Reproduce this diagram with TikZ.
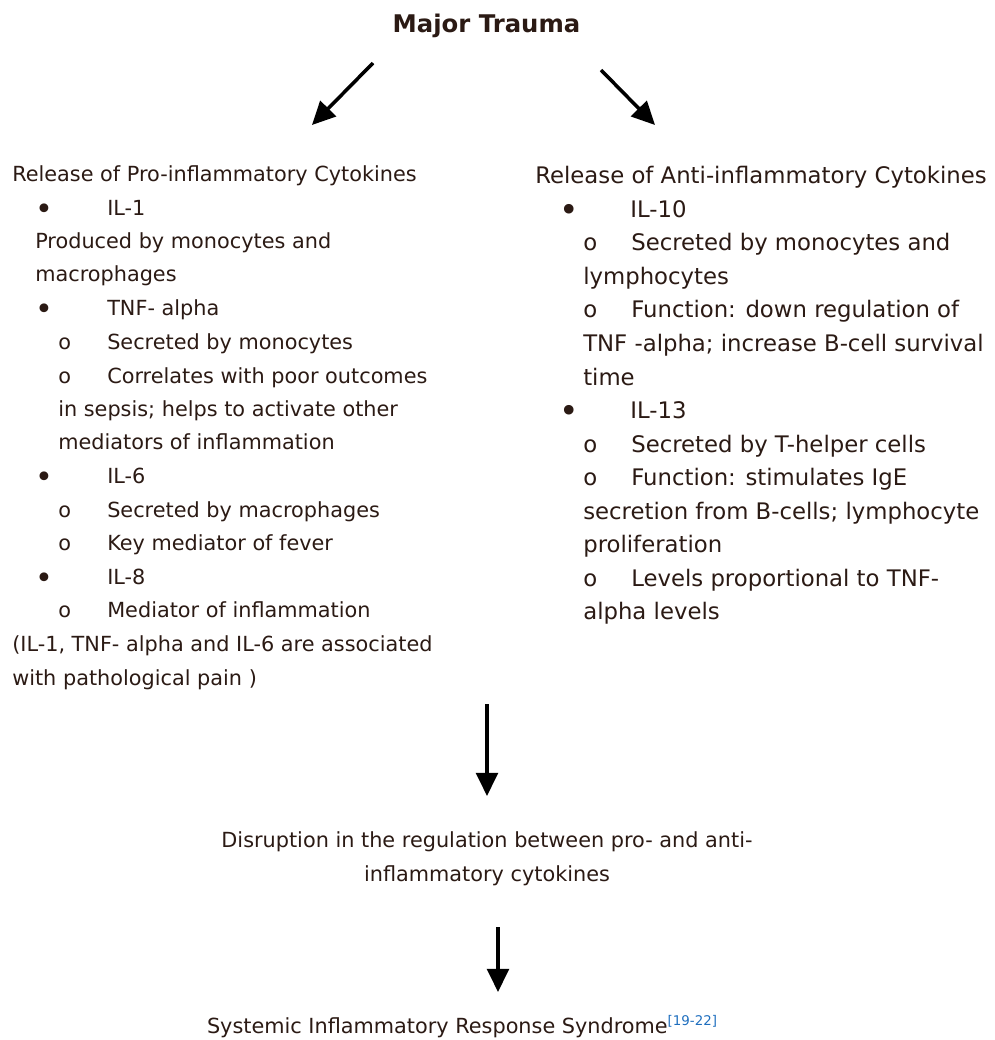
\documentclass[tikz,border=0pt]{standalone}
\usepackage{fontspec}
\setmainfont{DejaVu Sans}
\usepackage{tikz}
\usetikzlibrary{arrows.meta}
\definecolor{textbrown}{RGB}{43,26,20}
\definecolor{refblue}{RGB}{30,110,190}
\newcommand{\shaft}{2.5pt}
\newcommand{\lsize}{\fontsize{14.8}{18}\selectfont}
\newcommand{\rsize}{\fontsize{16.2}{20}\selectfont}
\newcommand{\bigdot}{\raisebox{-3.2pt}{\scalebox{1.45}{•}}}
\tikzset{
  lefttext/.style={anchor=base west, inner sep=0pt, text=textbrown, font=\lsize},
  righttext/.style={anchor=base west, inner sep=0pt, text=textbrown, font=\rsize},
  midtext/.style={anchor=base, inner sep=0pt, text=textbrown, font=\lsize},
  flow/.style={draw=black, line width=\shaft, -{Triangle[length=16.5pt,width=15.5pt]}}
}

\begin{document}
\begin{tikzpicture}[x=0.025cm,y=-0.025cm]
\useasboundingbox (0,0) rectangle (994,1040);
\node[midtext, font=\fontsize{17.3}{20}\selectfont\bfseries] (trauma) at (486.5,32) {Major Trauma};
%pro-inflammatory
\node[lefttext] (pro) at (12,181) {Release of Pro-inflammatory Cytokines};
\node[lefttext] (proAbul) at (35,215) {\bigdot};
\node[lefttext] (proA) at (107,215) {IL-1};
\node[lefttext] (proAa) at (35,248) {Produced by monocytes and};
\node[lefttext] (proAb) at (35,281) {macrophages};
\node[lefttext] (proBbul) at (35,315) {\bigdot};
\node[lefttext] (proB) at (107,315) {TNF- alpha};
\node[lefttext] (proBao) at (58,349) {o};
\node[lefttext] (proBa) at (107,349) {Secreted by monocytes};
\node[lefttext] (proBbo) at (58,383) {o};
\node[lefttext] (proBb) at (107,383) {Correlates with poor outcomes};
\node[lefttext] (proBc) at (58,416) {in sepsis; helps to activate other};
\node[lefttext] (proBd) at (58,449) {mediators of inflammation};
\node[lefttext] (proCbul) at (35,483) {\bigdot};
\node[lefttext] (proC) at (107,483) {IL-6};
\node[lefttext] (proCao) at (58,517) {o};
\node[lefttext] (proCa) at (107,517) {Secreted by macrophages};
\node[lefttext] (proCbo) at (58,550) {o};
\node[lefttext] (proCb) at (107,550) {Key mediator of fever};
\node[lefttext] (proDbul) at (35,584) {\bigdot};
\node[lefttext] (proD) at (107,584) {IL-8};
\node[lefttext] (proDao) at (58,617) {o};
\node[lefttext] (proDa) at (107,617) {Mediator of inflammation};
\node[lefttext] (pronote) at (12,651) {(IL-1, TNF- alpha and IL-6 are associated};
\node[lefttext] (pronoteb) at (12,685) {with pathological pain )};
%anti-inflammatory
\node[righttext] (anti) at (535,183) {Release of Anti-inflammatory Cytokines};
\node[righttext] (antiAbul) at (559,217) {\bigdot};
\node[righttext] (antiA) at (630,217) {IL-10};
\node[righttext] (antiAao) at (583,250) {o};
\node[righttext] (antiAa) at (631,250) {Secreted by monocytes and};
\node[righttext] (antiAb) at (583,284) {lymphocytes};
\node[righttext] (antiAco) at (583,317) {o};
\node[righttext] (antiAc) at (631,317) {Function: down regulation of};
\node[righttext] (antiAd) at (583,351) {TNF -alpha; increase B-cell survival};
\node[righttext] (antiAe) at (583,385) {time};
\node[righttext] (antiBbul) at (559,418) {\bigdot};
\node[righttext] (antiB) at (630,418) {IL-13};
\node[righttext] (antiBao) at (583,452) {o};
\node[righttext] (antiBa) at (631,452) {Secreted by T-helper cells};
\node[righttext] (antiBbo) at (583,485) {o};
\node[righttext] (antiBb) at (631,485) {Function: stimulates IgE};
\node[righttext] (antiBc) at (583,519) {secretion from B-cells; lymphocyte};
\node[righttext] (antiBd) at (583,552) {proliferation};
\node[righttext] (antiBeo) at (583,586) {o};
\node[righttext] (antiBe) at (631,586) {Levels proportional to TNF-};
\node[righttext] (antiBf) at (583,619) {alpha levels};
%outcome
\node[midtext] (disrupt) at (487,847) {Disruption in the regulation between pro- and anti-};
\node[midtext] (disruptb) at (487,881) {inflammatory cytokines};
\node[midtext] (sirs) at (462,1033) {Systemic Inflammatory Response Syndrome\raisebox{5.5pt}{\fontsize{9.5}{11}\selectfont\color{refblue}[19-22]}};
%arrows
\coordinate (tolefttail) at (373,63);
\coordinate (tolefttip) at (312,125);
\coordinate (torighttail) at (601,70);
\coordinate (torighttip) at (655,125);
\coordinate (downtail) at (487,704);
\coordinate (downtip) at (487,796);
\coordinate (lasttail) at (498,927);
\coordinate (lasttip) at (498,992);
\draw[flow] (tolefttail) -- (tolefttip);
\draw[flow] (torighttail) -- (torighttip);
\draw[flow] (downtail) -- (downtip);
\draw[flow] (lasttail) -- (lasttip);
\end{tikzpicture}
\end{document}
